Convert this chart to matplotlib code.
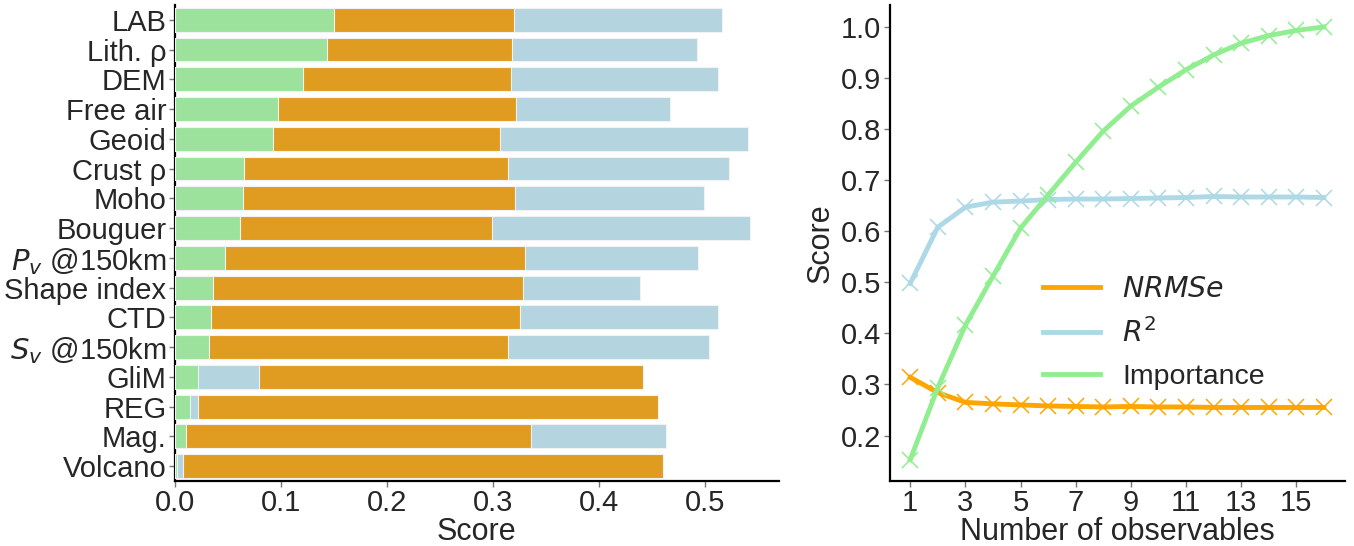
import numpy as np
import matplotlib
matplotlib.use('Agg')
import matplotlib.pyplot as plt

plt.rcParams['font.family'] = ['Liberation Sans', 'DejaVu Sans']
plt.rcParams['text.color'] = '#262626'
plt.rcParams['axes.labelcolor'] = '#262626'
plt.rcParams['xtick.color'] = '#262626'
plt.rcParams['ytick.color'] = '#262626'

# per-observable scores
features = ['LAB', 'Lith. ρ', 'DEM', 'Free air', 'Geoid', 'Crust ρ', 'Moho', 'Bouguer',
            '$P_v$ @150km', 'Shape index', 'CTD', '$S_v$ @150km', 'GliM', 'REG', 'Mag.', 'Volcano']
importance = [0.150, 0.144, 0.121, 0.097, 0.093, 0.065, 0.064, 0.062,
              0.047, 0.036, 0.034, 0.032, 0.022, 0.014, 0.011, 0.002]
nrmse = [0.320, 0.318, 0.317, 0.322, 0.307, 0.314, 0.321, 0.299,
         0.330, 0.328, 0.325, 0.314, 0.441, 0.455, 0.336, 0.460]
r2 = [0.516, 0.492, 0.512, 0.467, 0.540, 0.522, 0.499, 0.542,
      0.493, 0.438, 0.512, 0.503, 0.079, 0.022, 0.463, 0.008]

# scores vs number of observables used
n_obs = np.arange(1, 17)
nrmse_n = [0.314, 0.284, 0.265, 0.262, 0.260, 0.258, 0.257, 0.256,
           0.257, 0.256, 0.256, 0.255, 0.255, 0.255, 0.255, 0.255]
r2_n = [0.498, 0.608, 0.647, 0.657, 0.659, 0.662, 0.663, 0.663,
        0.664, 0.665, 0.666, 0.668, 0.667, 0.667, 0.667, 0.666]
importance_n = [0.153, 0.294, 0.416, 0.512, 0.606, 0.671, 0.735, 0.796,
                0.845, 0.882, 0.916, 0.945, 0.968, 0.983, 0.993, 1.000]

bar_cols = {'imp': '#9ce29c', 'nrmse': '#df9c20', 'r2': '#b4d4df'}
line_cols = {'imp': 'lightgreen', 'nrmse': 'orange', 'r2': 'lightblue'}

fig = plt.figure(figsize=(13.54, 5.46), dpi=100)
ax1 = fig.add_axes([0.129, 0.119, 0.446, 0.872])
ax2 = fig.add_axes([0.657, 0.119, 0.336, 0.872])

# overlapping bars, longest drawn first so shorter ones stay visible
ypos = np.arange(len(features))
for i in range(len(features)):
    vals = {'imp': importance[i], 'nrmse': nrmse[i], 'r2': r2[i]}
    for rank, key in enumerate(sorted(vals, key=lambda k: -vals[k])):
        ax1.barh(ypos[i], vals[key], height=0.8, color=bar_cols[key],
                 edgecolor='#f2f2f2', linewidth=0.8, zorder=2 + rank)
ax1.set_yticks(ypos)
ax1.set_yticklabels(features)
ax1.set_ylim(len(features) - 0.5, -0.5)
ax1.set_xlim(0, 0.569)
ax1.set_xticks([0.0, 0.1, 0.2, 0.3, 0.4, 0.5])
ax1.set_xlabel('Score', fontsize=22, labelpad=0)

ax2.plot(n_obs, nrmse_n, '-x', color=line_cols['nrmse'], lw=3.5, ms=11, mew=1.1, label='$NRMSe$', zorder=3)
ax2.plot(n_obs, r2_n, '-x', color=line_cols['r2'], lw=3.5, ms=11, mew=1.1, label='$R^2$', zorder=2)
ax2.plot(n_obs, importance_n, '-x', color=line_cols['imp'], lw=3.5, ms=11, mew=1.1, label='Importance', zorder=4)
ax2.set_xticks(np.arange(1, 17, 2))
ax2.set_yticks(np.arange(0.2, 1.01, 0.1))
ax2.set_xlim(0.25, 16.75)
ax2.set_ylim(0.111, 1.043)
ax2.set_xlabel('Number of observables', fontsize=22, labelpad=0)
ax2.set_ylabel('Score', fontsize=22, labelpad=4)
leg = ax2.legend(loc='center left', bbox_to_anchor=(0.28, 0.31), frameon=False,
                 fontsize=20.5, handlelength=2.0, labelspacing=0.55)
for h in leg.get_lines():
    h.set_marker('')

for ax in (ax1, ax2):
    ax.spines['top'].set_visible(False)
    ax.spines['right'].set_visible(False)
    for s in ('left', 'bottom'):
        ax.spines[s].set_linewidth(1.6)
        ax.spines[s].set_color('black')
    ax.tick_params(labelsize=21, length=4, width=1, color='#777777', pad=2)

fig.savefig('out.png', dpi=100)
